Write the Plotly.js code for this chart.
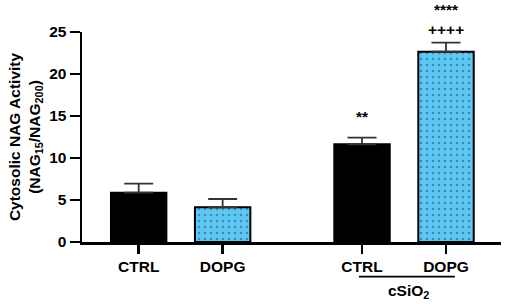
<!DOCTYPE html>
<html><head><meta charset="utf-8">
<script src="https://cdn.plot.ly/plotly-3.0.1.min.js"></script>
<style>html,body{margin:0;padding:0;background:#fff}#c{width:505px;height:304px}</style>
</head><body><div id="c"></div>
<script>
const categories = ["CTRL", "DOPG", "CTRL", "DOPG"];
const xPos = [0, 1, 2.66, 3.66];
const values = [5.87, 4.13, 11.63, 22.65];
const errors = [1.07, 0.99, 0.79, 1.08];
const barColors = ["#000000", "#5BC8F5", "#000000", "#5BC8F5"];
const patterns = ["", ".", "", "."];
const sigLabels = ["", "", "**", "****"];
const sigLabels2 = ["", "", "", "++++"];

const F = "Liberation Sans, Arial, sans-serif";
const FS = 15.5;

const trace = {
  type: "bar",
  x: xPos,
  y: values,
  width: 0.66,
  marker: {
    color: barColors,
    line: {color: "#000", width: 2},
    pattern: {shape: patterns, fgcolor: "#000", size: 6, solidity: 0.13, fillmode: "overlay"}
  },
  error_y: {type: "data", symmetric: false, array: errors, arrayminus: errors.map(() => 0),
            color: "#333", thickness: 1.8, width: 14.5},
  hoverinfo: "none"
};

const annotations = [];
for (let i = 0; i < xPos.length; i++) {
  const top = values[i] + errors[i];
  if (sigLabels[i]) {
    annotations.push({x: xPos[i], y: top, xref: "x", yref: "y", text: sigLabels[i], showarrow: false,
      yanchor: "bottom", yshift: sigLabels2[i] ? 22.5 : 11, font: {family: F, size: FS, color: "#000", weight: 700}});
  }
  if (sigLabels2[i]) {
    annotations.push({x: xPos[i], y: top, xref: "x", yref: "y", text: sigLabels2[i], showarrow: false,
      yanchor: "bottom", yshift: 3, font: {family: F, size: FS, color: "#000", weight: 700}});
  }
}
annotations.push({x: 3.218, y: -0.237, xref: "x", yref: "paper", text: "cSiO<sub>2</sub>", showarrow: false,
  yanchor: "middle", font: {family: F, size: FS, color: "#000", weight: 700}});

const layout = {
  width: 505, height: 304,
  margin: {l: 82, r: 4, t: 32, b: 62},
  paper_bgcolor: "#fff", plot_bgcolor: "#fff",
  showlegend: false,
  font: {family: F, color: "#000", weight: 700},
  xaxis: {
    range: [-0.675, 4.315], tickvals: xPos, ticktext: categories,
    showline: true, linecolor: "#000", linewidth: 2.5, showgrid: false, zeroline: false,
    ticks: "outside", ticklen: 9, tickwidth: 2.5, tickcolor: "#000",
    tickfont: {family: F, size: FS, color: "#000", weight: 700}
  },
  yaxis: {
    range: [0, 25], tickvals: [0, 5, 10, 15, 20, 25],
    showline: true, linecolor: "#000", linewidth: 2.5, showgrid: false, zeroline: false,
    ticks: "outside", ticklen: 10, tickwidth: 2.5, tickcolor: "#000",
    tickfont: {family: F, size: FS, color: "#000", weight: 700},
    title: {text: "Cytosolic NAG Activity<br>(NAG<sub>15</sub>/NAG<sub>200</sub>)", standoff: 5,
            font: {family: F, size: FS, color: "#000", weight: 700}}
  },
  shapes: [{type: "line", xref: "x", yref: "paper", x0: 2.623, x1: 3.765, y0: -0.165, y1: -0.165,
            line: {color: "#000", width: 1.6}}],
  annotations: annotations
};

Plotly.newPlot("c", [trace], layout, {displayModeBar: false, staticPlot: true});
</script></body></html>
